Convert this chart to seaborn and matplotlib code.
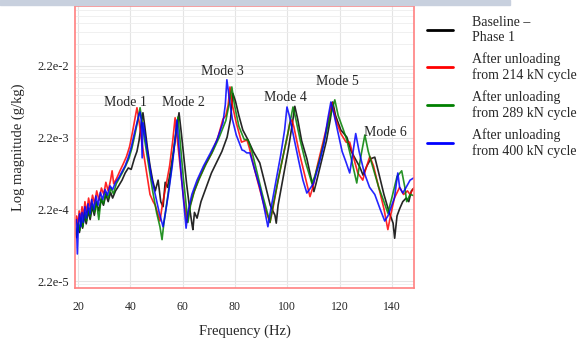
import matplotlib
matplotlib.use("Agg")
import matplotlib.pyplot as plt
from matplotlib.lines import Line2D
from matplotlib.patches import Rectangle
from matplotlib.ticker import FixedLocator, FixedFormatter, NullFormatter
import seaborn as sns
import pandas as pd
import numpy as np

# series (legend order)
series_keys = ["baseline", "214", "289", "400"]
series_labels = ["Baseline \u2013\nPhase 1",
                 "After unloading\nfrom 214 kN cycle",
                 "After unloading\nfrom 289 kN cycle",
                 "After unloading\nfrom 400 kN cycle"]
series_colors = ["#000000", "#ff0000", "#008000", "#0000ff"]

# values: frequency (Hz) and log10 of magnitude (g/kg)
baseline_freq = [18.9, 19.4, 19.9, 20.5, 21.1, 21.7, 22.4, 23.1, 23.8, 24.6,
                 25.4, 26.2, 27.0, 27.9, 28.8, 29.7, 30.6, 31.5, 32.4, 33.2,
                 34.3, 35.5, 36.8, 38.0, 39.2, 40.3, 41.5, 42.5, 43.3, 44.2,
                 44.8, 45.5, 46.5, 47.5, 48.5, 49.5, 50.6, 51.6, 52.5, 53.3,
                 54.2, 55.2, 56.5, 57.6, 58.6, 59.5, 60.5, 61.5, 62.5, 63.5,
                 63.9, 64.5, 65.5, 67.0, 69.0, 71.0, 73.0, 75.0, 77.0, 78.3,
                 79.2, 80.2, 81.5, 83.0, 85.0, 87.0, 89.5, 91.5, 93.5, 95.3,
                 95.8, 96.5, 98.5, 100.5, 102.0, 102.9, 104.0, 105.5, 107.5, 109.0,
                 110.2, 111.0, 113.0, 115.0, 116.5, 117.4, 118.5, 120.5, 122.8, 124.5,
                 126.0, 127.8, 129.0, 130.5, 132.0, 133.5, 135.0, 137.0, 139.0, 140.5,
                 141.1, 142.0, 143.0, 144.2, 145.5, 146.5, 147.5, 148.8]
baseline_logmag = [-3.95, -4.05, -3.88, -3.98, -3.82, -3.92, -3.74, -3.86, -3.68, -3.80,
                   -3.62, -3.74, -3.56, -3.68, -3.52, -3.60, -3.45, -3.55, -3.42, -3.50,
                   -3.40, -3.33, -3.25, -3.15, -3.08, -3.10, -2.95, -2.85, -2.70, -2.45,
                   -2.31, -2.50, -2.80, -3.05, -3.25, -3.40, -3.25, -3.55, -3.62, -3.28,
                   -3.35, -3.15, -2.85, -2.55, -2.31, -2.60, -2.95, -3.30, -3.60, -3.85,
                   -3.94, -3.70, -3.78, -3.55, -3.35, -3.15, -3.00, -2.85, -2.65, -2.40,
                   -2.04, -2.15, -2.35, -2.55, -2.69, -2.85, -3.01, -3.30, -3.60, -3.74,
                   -3.85, -3.60, -3.20, -2.80, -2.45, -2.22, -2.40, -2.70, -2.95, -3.20,
                   -3.41, -3.30, -3.00, -2.70, -2.40, -2.16, -2.35, -2.55, -2.65, -2.85,
                   -2.95, -3.07, -3.18, -3.05, -2.95, -2.93, -3.15, -3.45, -3.70, -3.85,
                   -4.06, -3.75, -3.65, -3.55, -3.50, -3.55, -3.40, -3.35]

kn214_freq = [18.9, 19.4, 19.9, 20.4, 20.9, 21.5, 22.0, 22.6, 23.3, 24.0,
              24.7, 25.5, 26.3, 27.1, 28.0, 28.9, 29.8, 30.6, 31.5, 32.4,
              33.0, 33.6, 34.8, 36.0, 37.3, 38.5, 39.7, 40.8, 41.8, 42.5,
              43.2, 44.5, 46.0, 47.5, 48.7, 49.5, 50.5, 51.3, 52.2, 53.5,
              55.0, 56.2, 57.1, 58.0, 59.3, 60.5, 61.7, 62.5, 64.0, 66.0,
              68.5, 71.0, 73.5, 75.4, 76.5, 77.4, 78.1, 79.0, 80.5, 82.5,
              84.6, 85.5, 87.5, 89.5, 91.5, 93.4, 94.5, 96.5, 98.5, 100.0,
              101.0, 101.8, 102.5, 104.5, 106.5, 108.7, 109.8, 111.5, 113.5, 115.5,
              117.1, 118.5, 120.5, 122.5, 123.9, 125.5, 127.0, 128.9, 130.0, 131.6,
              133.0, 135.0, 137.0, 138.5, 139.5, 141.0, 143.0, 144.5, 146.0, 147.0,
              148.0, 148.8]
kn214_logmag = [-3.88, -3.75, -3.90, -3.68, -3.82, -3.62, -3.78, -3.55, -3.70, -3.50,
                -3.65, -3.46, -3.58, -3.40, -3.53, -3.36, -3.45, -3.28, -3.40, -3.25,
                -3.12, -3.30, -3.22, -3.12, -3.02, -2.92, -2.78, -2.58, -2.38, -2.24,
                -2.40, -2.75, -3.10, -3.45, -3.55, -3.60, -3.72, -3.82, -3.60, -3.35,
                -3.05, -2.70, -2.38, -2.70, -3.15, -3.55, -3.84, -3.65, -3.45, -3.25,
                -3.05, -2.88, -2.65, -2.40, -2.35, -2.20, -1.95, -2.20, -2.45, -2.72,
                -2.69, -2.80, -3.10, -3.38, -3.65, -3.84, -3.65, -3.25, -2.90, -2.65,
                -2.45, -2.41, -2.50, -2.85, -3.15, -3.48, -3.35, -3.05, -2.75, -2.45,
                -2.17, -2.40, -2.60, -2.72, -2.72, -2.95, -3.15, -3.25, -3.10, -2.92,
                -3.05, -3.35, -3.65, -3.94, -3.75, -3.50, -3.35, -3.45, -3.40, -3.45,
                -3.38, -3.35]

kn289_freq = [18.9, 19.5, 20.0, 20.6, 21.2, 21.8, 22.5, 23.2, 23.9, 24.6,
              25.4, 26.2, 27.0, 27.9, 28.8, 29.7, 30.6, 31.5, 32.5, 33.5,
              34.6, 35.8, 37.0, 38.2, 39.4, 40.6, 41.7, 42.8, 43.7, 44.5,
              45.5, 47.0, 48.5, 50.0, 51.3, 52.1, 52.8, 54.0, 55.5, 57.0,
              58.2, 59.0, 60.2, 61.2, 62.0, 63.0, 64.5, 66.5, 69.0, 71.5,
              74.0, 76.5, 78.0, 78.8, 79.8, 81.5, 83.5, 85.0, 86.5, 88.5,
              90.5, 92.5, 93.4, 94.5, 96.5, 98.5, 100.5, 102.2, 103.0, 105.0,
              107.0, 109.4, 110.5, 112.5, 114.5, 116.5, 118.2, 119.5, 121.5, 122.8,
              124.5, 126.6, 128.0, 129.7, 131.0, 133.0, 135.0, 137.0, 138.5, 140.0,
              142.0, 143.8, 145.0, 145.7, 147.0, 148.8]
kn289_logmag = [-3.92, -4.02, -3.85, -3.95, -3.78, -3.90, -3.70, -3.82, -3.64, -3.76,
                -3.58, -3.70, -3.55, -3.80, -3.50, -3.58, -3.42, -3.50, -3.36, -3.44,
                -3.30, -3.22, -3.14, -3.05, -2.95, -2.80, -2.62, -2.42, -2.24, -2.45,
                -2.70, -3.05, -3.40, -3.70, -3.90, -4.08, -3.85, -3.55, -3.15, -2.70,
                -2.37, -2.70, -3.20, -3.55, -3.84, -3.60, -3.40, -3.22, -3.02, -2.85,
                -2.65, -2.42, -2.15, -1.95, -2.20, -2.50, -2.68, -2.69, -2.85, -3.15,
                -3.45, -3.72, -3.84, -3.62, -3.25, -2.90, -2.55, -2.23, -2.35, -2.70,
                -3.00, -3.29, -3.20, -2.95, -2.65, -2.35, -2.13, -2.35, -2.55, -2.69,
                -2.95, -3.29, -2.95, -2.62, -2.85, -3.10, -3.35, -3.55, -3.71, -3.50,
                -3.20, -3.12, -3.35, -3.55, -3.45, -3.47]

kn400_freq = [18.9, 19.3, 19.7, 20.1, 20.6, 21.0, 21.5, 22.0, 22.6, 23.2,
              23.8, 24.5, 25.2, 26.0, 26.8, 27.6, 28.5, 29.4, 30.3, 31.2,
              32.2, 33.2, 34.3, 35.5, 36.8, 38.0, 39.2, 40.4, 41.5, 42.5,
              43.3, 43.7, 44.1, 44.5, 44.8, 45.3, 46.5, 48.0, 49.5, 51.0,
              52.5, 53.2, 54.5, 56.0, 57.2, 57.8, 58.5, 59.5, 60.5, 61.3,
              62.0, 63.5, 65.5, 68.0, 70.5, 73.0, 75.4, 76.3, 76.9, 77.8,
              79.0, 80.5, 82.7, 83.5, 84.5, 85.7, 87.5, 89.5, 91.0, 92.6,
              93.5, 95.5, 97.5, 99.0, 99.9, 100.8, 102.5, 104.5, 106.0, 107.5,
              108.5, 110.0, 112.0, 114.0, 115.5, 116.7, 118.0, 119.5, 121.0, 122.5,
              123.9, 125.0, 126.2, 127.5, 129.5, 131.5, 133.5, 135.5, 137.3, 138.5,
              140.0, 141.0, 142.3, 143.0, 144.2, 145.5, 147.0, 148.8]
kn400_logmag = [-3.95, -3.80, -4.28, -3.85, -3.72, -3.90, -3.70, -3.84, -3.62, -3.78,
                -3.58, -3.72, -3.52, -3.66, -3.47, -3.60, -3.42, -3.52, -3.38, -3.46,
                -3.33, -3.38, -3.28, -3.22, -3.13, -3.05, -2.93, -2.78, -2.60, -2.45,
                -2.33, -2.30, -2.40, -2.94, -2.45, -2.55, -2.85, -3.20, -3.45, -3.70,
                -3.90, -3.75, -3.45, -3.05, -2.65, -2.41, -2.75, -3.20, -3.60, -3.92,
                -3.70, -3.45, -3.25, -3.05, -2.88, -2.70, -2.45, -2.20, -1.85, -2.10,
                -2.40, -2.62, -2.83, -2.84, -2.87, -2.87, -3.10, -3.35, -3.60, -3.90,
                -3.70, -3.30, -2.90, -2.55, -2.23, -2.35, -2.65, -3.00, -3.25, -3.43,
                -3.38, -3.30, -3.05, -2.75, -2.40, -2.16, -2.35, -2.60, -2.85, -3.00,
                -3.15, -2.90, -2.60, -2.85, -3.15, -3.35, -3.45, -3.65, -3.82, -3.75,
                -3.60, -3.50, -3.15, -3.35, -3.43, -3.35, -3.25, -3.21]

# mode annotations
mode_labels = ["Mode 1", "Mode 2", "Mode 3", "Mode 4", "Mode 5", "Mode 6"]
mode_freq = [38.0, 60.1, 75.0, 99.5, 119.0, 137.7]
mode_mag = [6.9e-3, 6.7e-3, 1.82e-2, 8.1e-3, 1.32e-2, 2.56e-3]

y_ticks = [2.2e-5, 2.2e-4, 2.2e-3, 2.2e-2]
y_ticklabels = ["2.2e-5", "2.2e-4", "2.2e-3", "2.2e-2"]
x_ticks = [20, 40, 60, 80, 100, 120, 140]

# long-form table
freqs = [baseline_freq, kn214_freq, kn289_freq, kn400_freq]
logmags = [baseline_logmag, kn214_logmag, kn289_logmag, kn400_logmag]
frames = []
for key, f, lm in zip(series_keys, freqs, logmags):
    frames.append(pd.DataFrame({"freq": f, "mag": 10.0 ** np.array(lm), "series": key}))
df = pd.concat(frames, ignore_index=True)

sns.set_style("white")
plt.rcParams["font.family"] = ["Liberation Serif", "DejaVu Serif"]

fig = plt.figure(figsize=(5.79, 3.43), dpi=100)
# faint banner strip at the very top of the source image
fig.patches.append(Rectangle((0, 1 - 5 / 343), 510 / 579, 5 / 343,
                             transform=fig.transFigure, color="#c8d0de", zorder=0))

ax = fig.add_axes([75 / 579, 55 / 343, 339 / 579, 282 / 343])
sns.lineplot(data=df, x="freq", y="mag", hue="series",
             palette=dict(zip(series_keys, series_colors)),
             sort=False, estimator=None, linewidth=1.2, alpha=0.85,
             legend=False, ax=ax)

ax.set_yscale("log")
ax.set_xlim(18.8, 148.5)
ax.set_ylim(1.76e-5, 0.151)

ax.yaxis.set_major_locator(FixedLocator(y_ticks))
ax.yaxis.set_major_formatter(FixedFormatter(y_ticklabels))
minor = [2.2 * 10.0 ** k * n for k in range(-6, -1) for n in range(2, 10)]
ax.yaxis.set_minor_locator(FixedLocator(minor))
ax.yaxis.set_minor_formatter(NullFormatter())
ax.set_xticks(x_ticks)

ax.grid(True, which="major", axis="y", color="#e4e4e4", linewidth=0.8)
ax.grid(True, which="minor", axis="y", color="#eeeeee", linewidth=0.6)
ax.grid(True, which="major", axis="x", color="#e4e4e4", linewidth=0.8)
ax.set_axisbelow(True)

ax.tick_params(axis="x", length=3, color="#999999", pad=6, labelsize=8.5)
ax.tick_params(axis="y", which="both", length=0, pad=4, labelsize=9)

for s in ax.spines.values():
    s.set_visible(True)
    s.set_color("#ff8080")
    s.set_linewidth(1.2)

ax.set_xlabel("Frequency (Hz)", fontsize=10.5)
ax.set_ylabel("Log magnitude (g/kg)", fontsize=10.5)
ax.xaxis.set_label_coords(0.5, -0.128)
ax.yaxis.set_label_coords(-0.148, 0.5)

for lab, fx, my in zip(mode_labels, mode_freq, mode_mag):
    ax.text(fx, my, lab, fontsize=10, ha="center", va="center")

handles = [Line2D([], [], color=c, lw=2) for c in series_colors]
fig.legend(handles, series_labels, loc="upper left",
           bbox_to_anchor=(427 / 579, 1 - 16 / 343), bbox_transform=fig.transFigure,
           frameon=False, fontsize=10, handlelength=1.85, handletextpad=1.4,
           borderpad=0, borderaxespad=0, labelspacing=0.6)

fig.savefig("out.png", dpi=100)
